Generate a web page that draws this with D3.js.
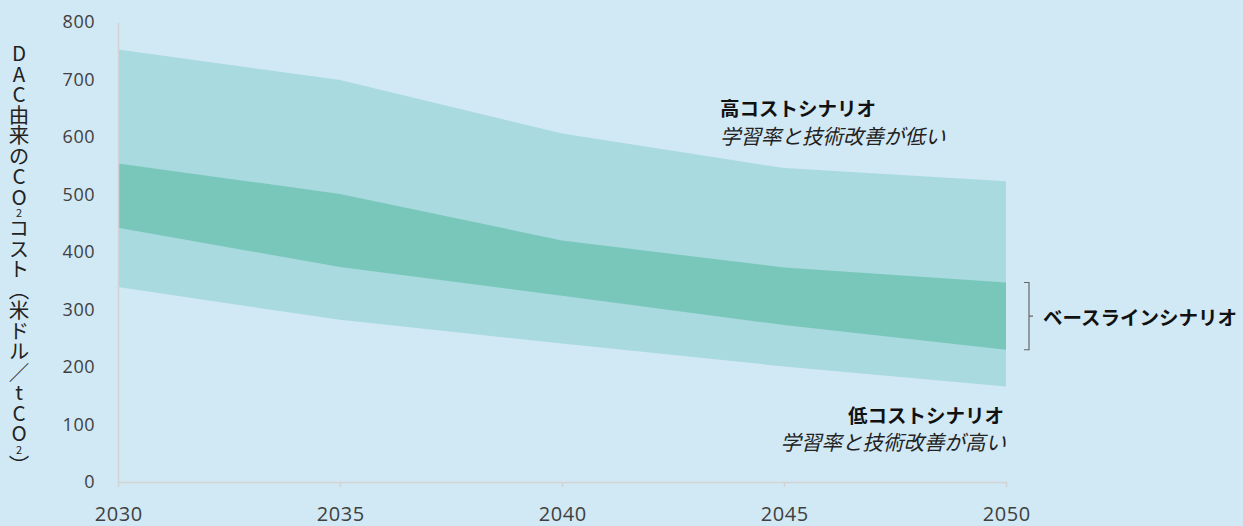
<!DOCTYPE html>
<html>
<head>
<meta charset="utf-8">
<script src="https://cdn.jsdelivr.net/npm/d3@7"></script>
<style>
  body { margin: 0; background: #d1e8f5; }
  svg { display: block; }
  .tick text { fill: #404040; font-family: "Open Sans", sans-serif; }
  .label { font-family: "Noto Sans CJK JP", sans-serif; fill: #111; }
</style>
</head>
<body>
<div id="chart"></div>
<script>
// years on the x axis
const years = [2030, 2035, 2040, 2045, 2050]
// DAC cost (USD / tCO2)
const highCost = [752, 699, 606, 546, 523]      // top of the outer band
const baseHigh = [554, 501, 420, 373, 347]      // top of baseline band
const baseLow = [442, 374, 324, 273, 230]       // bottom of baseline band
const lowCost = [339, 282, 241, 201, 166]       // bottom of the outer band
const yTicks = [0, 100, 200, 300, 400, 500, 600, 700, 800]

const cfg = {
    w: 1243,
    h: 526,
    margin: { top: 22, right: 237, bottom: 44, left: 118 },
    bg: '#d1e8f5',
    outerColor: '#a8dadf',
    innerColor: '#79c7ba',
    axisColor: '#d3d3d3'
}

const svg = d3.select('#chart')
    .append('svg')
    .attr('width', cfg.w)
    .attr('height', cfg.h)

svg.append('rect')
    .attr('width', cfg.w)
    .attr('height', cfg.h)
    .attr('fill', cfg.bg)

const x = d3.scaleLinear()
    .domain([2030, 2050])
    .range([cfg.margin.left, cfg.w - cfg.margin.right])

const y = d3.scaleLinear()
    .domain([0, 800])
    .range([cfg.h - cfg.margin.bottom, cfg.margin.top])

const band = (lo, hi) => years.map((yr, i) => ({ year: yr, lo: lo[i], hi: hi[i] }))

const area = d3.area()
    .x(d => x(d.year))
    .y0(d => y(d.lo))
    .y1(d => y(d.hi))

// outer band (low cost .. high cost)
svg.append('path')
    .attr('fill', cfg.outerColor)
    .attr('d', area(band(lowCost, highCost)))

// baseline band
svg.append('path')
    .attr('fill', cfg.innerColor)
    .attr('d', area(band(baseLow, baseHigh)))

// Y axis
const yAxis = svg.append('g')
    .attr('transform', `translate(${x(2030)}, 0)`)
    .call(d3.axisLeft(y)
        .tickValues(yTicks)
        .tickSize(0)
        .tickPadding(23)
    )
yAxis.select('.domain').attr('stroke', cfg.axisColor).attr('stroke-width', 1.5)
yAxis.selectAll('text').attr('font-size', 18).attr('letter-spacing', 0.5)

// X axis
const xAxis = svg.append('g')
    .attr('transform', `translate(0, ${y(0)})`)
    .call(d3.axisBottom(x)
        .tickValues(years)
        .tickFormat(d3.format('d'))
        .tickSize(5)
        .tickSizeOuter(0)
        .tickPadding(19.5)
    )
xAxis.select('.domain').attr('stroke', cfg.axisColor).attr('stroke-width', 1.5)
xAxis.selectAll('line').attr('stroke', cfg.axisColor).attr('stroke-width', 1.5)
xAxis.selectAll('text').attr('font-size', 20).attr('letter-spacing', 0.6).attr('dx', 0.3)

// Y axis title (vertical, upright)
const yTitle = svg.append('text')
    .attr('class', 'label')
    .attr('x', 19)
    .attr('y', 43)
    .attr('font-size', 20.5)
    .style('writing-mode', 'vertical-rl')
    .style('text-orientation', 'upright')
    .style('fill', '#222')
yTitle.append('tspan').text('DAC由来のCO')
yTitle.append('tspan').attr('font-size', 11).text('2')
yTitle.append('tspan').text('コスト（米ドル／tCO')
yTitle.append('tspan').attr('font-size', 11).text('2')
yTitle.append('tspan').text('）')

// scenario labels
const highLabel = svg.append('g')
    .attr('transform', `translate(${x(2043.56)}, ${y(652)})`)
highLabel.append('text')
    .attr('class', 'label')
    .attr('font-weight', 'bold')
    .attr('font-size', 19.5)
    .attr('dominant-baseline', 'central')
    .text('高コストシナリオ')
highLabel.append('text')
    .attr('class', 'label')
    .attr('font-style', 'italic')
    .attr('font-size', 20.5)
    .attr('dominant-baseline', 'central')
    .attr('y', 28)
    .style('fill', '#222')
    .text('学習率と技術改善が低い')

const lowLabel = svg.append('g')
    .attr('transform', `translate(${x(2050) - 2}, ${y(118)})`)
lowLabel.append('text')
    .attr('class', 'label')
    .attr('font-weight', 'bold')
    .attr('font-size', 19.5)
    .attr('text-anchor', 'end')
    .attr('dominant-baseline', 'central')
    .text('低コストシナリオ')
lowLabel.append('text')
    .attr('class', 'label')
    .attr('font-style', 'italic')
    .attr('font-size', 20.5)
    .attr('text-anchor', 'end')
    .attr('dominant-baseline', 'central')
    .attr('y', 27)
    .attr('x', 2)
    .style('fill', '#222')
    .text('学習率と技術改善が高い')

// bracket for baseline scenario
const last = years.length - 1
const bTop = y(baseHigh[last])
const bBot = y(baseLow[last])
const bx = x(2050) + 23
const bMid = (bTop + bBot) / 2
svg.append('path')
    .attr('fill', 'none')
    .attr('stroke', '#666')
    .attr('stroke-width', 1.2)
    .attr('d', `M${bx - 5},${bTop}H${bx}V${bBot}H${bx - 5}M${bx},${bMid}H${bx + 4}`)

svg.append('text')
    .attr('class', 'label')
    .attr('font-weight', 'bold')
    .attr('font-size', 19.5)
    .attr('x', bx + 14)
    .attr('y', bMid)
    .attr('dominant-baseline', 'central')
    .text('ベースラインシナリオ')
</script>
</body>
</html>
